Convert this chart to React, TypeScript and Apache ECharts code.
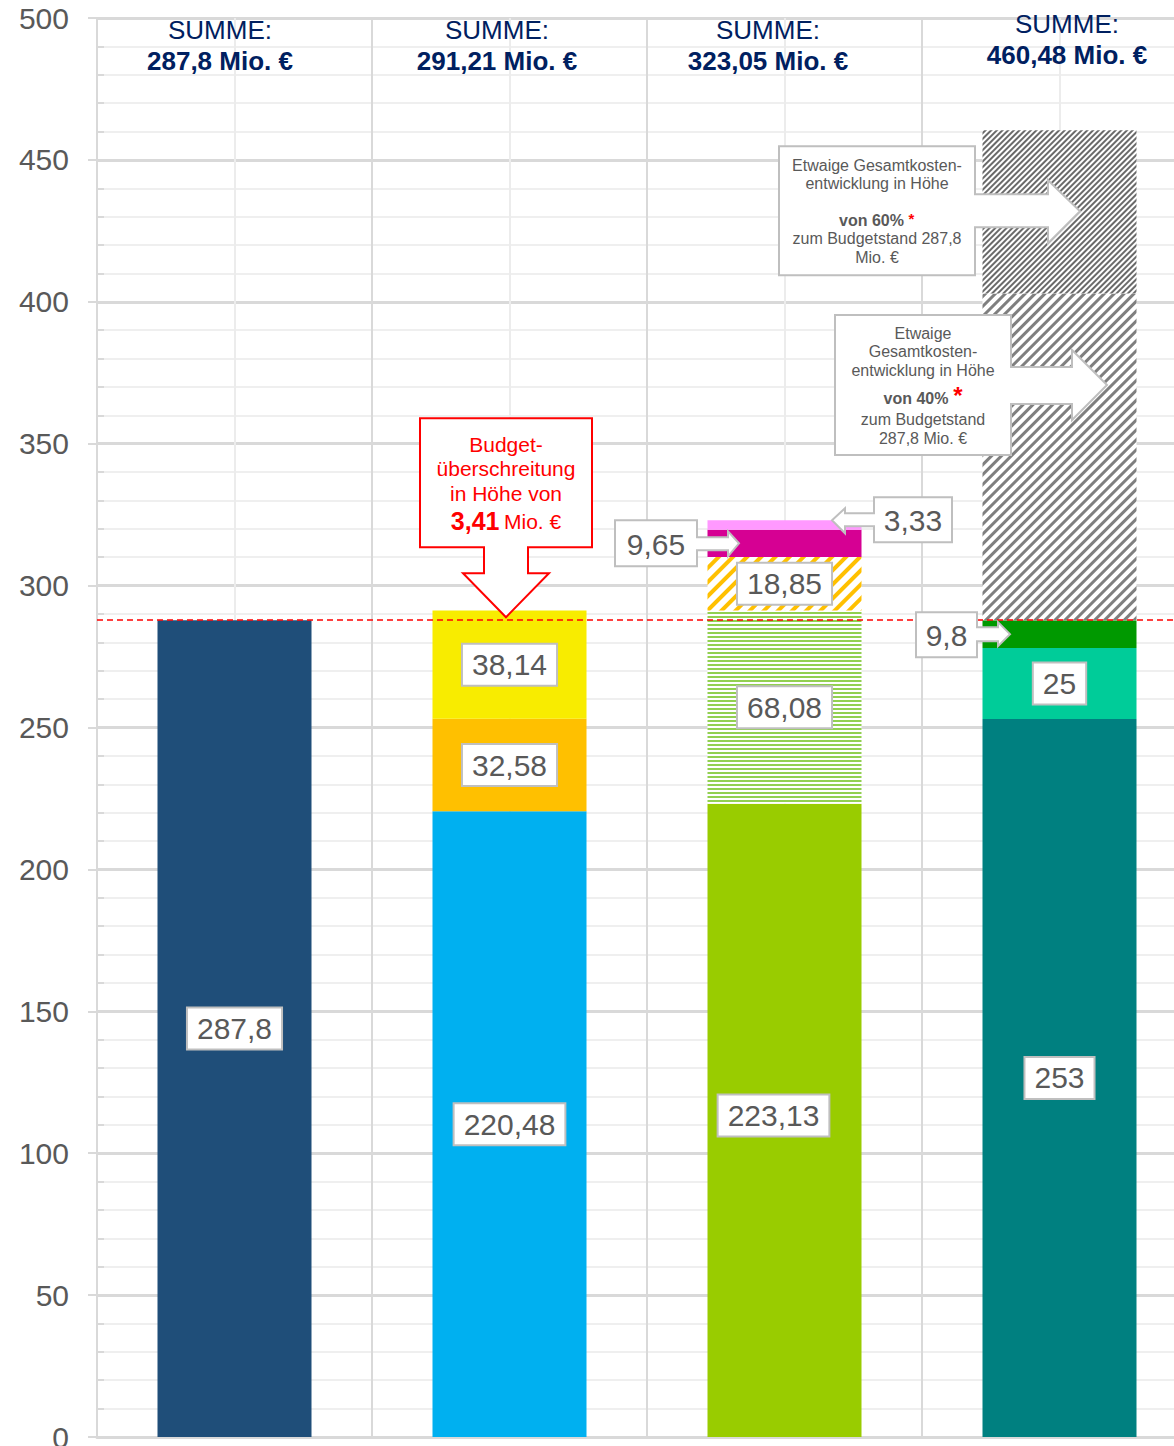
import React, { useEffect, useRef } from 'react';
import * as echarts from 'echarts';

// ---------- data ----------
const categories = ['Budgetstand', 'Stand 2', 'Stand 3', 'Prognose'];
const budgetValues = [287.8];
const stand2Values = [220.48, 32.58, 38.14];
const stand3Values = [223.13, 68.08, 18.85, 9.65, 3.33];
const prognoseValues = [253, 25, 9.8, 115.12, 57.56];
const sumLabels = ['287,8', '291,21', '323,05', '460,48'];
const budgetLine = 287.8;
const overrunLabel = '3,41';
const yMin = 0;
const yMax = 500;
const yInterval = 50;

// ---------- styles ----------
const FONT = "'Liberation Sans', Arial, Helvetica, sans-serif";
const GRAY_TEXT = '#595959';
const BOX_BORDER = '#bfbfbf';
const NAVY = '#002060';

const fmt = (v: number) => String(v).replace('.', ',');

const boxLabel = (extra: any = {}) => ({
  show: true,
  position: 'inside',
  formatter: (p: any) => fmt(p.value),
  fontFamily: FONT,
  fontSize: 30,
  color: GRAY_TEXT,
  backgroundColor: '#ffffff',
  borderColor: BOX_BORDER,
  borderWidth: 2,
  padding: [6, 9, 4, 9],
  ...extra,
});
const noLabel = { show: false };

const stripes = (color: string, dashY: number[], rotation: number) => ({
  color,
  symbol: 'rect',
  symbolSize: 1,
  symbolKeepAspect: false,
  dashArrayX: [1, 0],
  dashArrayY: dashY,
  rotation,
});

function seg(cat: number, value: number, itemStyle: any, label: any, extra: any = {}) {
  const data = categories.map((_, i) => (i === cat ? value : '-'));
  return {
    type: 'bar',
    stack: 'total',
    barWidth: 154,
    xAxisIndex: 0,
    yAxisIndex: 0,
    data,
    itemStyle,
    label,
    emphasis: { disabled: true },
    ...extra,
  };
}

function buildSeries() {
  const s: any[] = [];
  s.push(seg(0, budgetValues[0], { color: '#1F4E79' }, boxLabel()));

  const c2 = ['#00B0F0', '#FFC000', '#F8EC00'];
  stand2Values.forEach((v, i) => s.push(seg(1, v, { color: c2[i] }, boxLabel())));

  const st3: any[] = [
    { color: '#99CC00' },
    { color: '#ffffff', decal: stripes('#92D050', [2, 2], 0) },
    { color: '#ffffff', decal: stripes('#FFC000', [4, 6], -Math.PI / 4) },
    { color: '#D60093' },
    { color: '#FF99FF' },
  ];
  const lb3 = [boxLabel({ offset: [-11, -5] }), boxLabel(), boxLabel(), noLabel, noLabel];
  stand3Values.forEach((v, i) => s.push(seg(2, v, st3[i], lb3[i])));

  const st4: any[] = [
    { color: '#008080' },
    { color: '#00CC99' },
    { color: '#009900' },
    { color: '#ffffff', decal: stripes('#7f7f7f', [3, 4], -Math.PI / 4) },
    { color: '#ffffff', decal: stripes('#6a6a6a', [1.5, 1.5], -Math.PI / 4) },
  ];
  const lb4 = [boxLabel(), boxLabel(), noLabel, noLabel, noLabel];
  prognoseValues.forEach((v, i) => {
    const extra =
      i === prognoseValues.length - 1
        ? {
            markLine: {
              silent: true,
              symbol: ['none', 'none'],
              label: { show: false },
              lineStyle: { color: '#FF0000', type: [6, 4], width: 1.5 },
              z: 6,
              data: [{ yAxis: budgetLine }],
            },
          }
        : {};
    s.push(seg(3, v, st4[i], lb4[i], extra));
  });
  return s;
}

const calloutStyle = { fill: '#ffffff', stroke: BOX_BORDER, lineWidth: 2 };

function txt(x: number, y: number, text: string, o: any = {}) {
  return {
    type: 'text',
    x,
    y,
    z: 20,
    silent: true,
    style: {
      text,
      fill: GRAY_TEXT,
      fontFamily: FONT,
      fontSize: 16,
      align: 'center',
      verticalAlign: 'middle',
      ...o,
    },
  };
}

function poly(points: number[][], style: any) {
  return { type: 'polygon', z: 15, silent: true, shape: { points }, style };
}

function buildGraphics(chart: any) {
  const px = (cat: number, v: number) => chart.convertToPixel({ xAxisIndex: 0, yAxisIndex: 0 }, [cat, v]);
  const g: any[] = [];

  // SUMME headers
  const sumDx = [-14.5, -12.5, -16.5, 7.5];
  const sumDy = [0, 0, 0, -6];
  sumLabels.forEach((s, i) => {
    const [x, y] = px(i, yMax);
    g.push({
      type: 'group',
      x: x + sumDx[i],
      y: y + sumDy[i],
      children: [
        txt(0, 12, 'SUMME:', { fill: NAVY, fontSize: 26 }),
        txt(0, 43, s + ' Mio. €', { fill: NAVY, fontSize: 26, fontWeight: 'bold' }),
      ],
    });
  });

  // Budget overrun callout (red)
  {
    const [x, y] = px(1, budgetLine);
    g.push({
      type: 'group',
      x,
      y,
      children: [
        poly(
          [
            [-89.5, -202], [82.5, -202], [82.5, -73], [18.5, -73], [18.5, -47], [39.5, -47],
            [-3.5, -3], [-46.5, -47], [-25.5, -47], [-25.5, -73], [-89.5, -73],
          ],
          { fill: '#ffffff', stroke: '#FF0000', lineWidth: 2 }
        ),
        txt(-3.5, -176, 'Budget-', { fill: '#FF0000', fontSize: 21 }),
        txt(-3.5, -152, 'überschreitung', { fill: '#FF0000', fontSize: 21 }),
        txt(-3.5, -127, 'in Höhe von', { fill: '#FF0000', fontSize: 21 }),
        txt(-3.5, -99, '{b|' + overrunLabel + '} {r|Mio. €}', {
          fill: '#FF0000',
          rich: {
            b: { fill: '#FF0000', fontSize: 25, fontWeight: 'bold', fontFamily: FONT },
            r: { fill: '#FF0000', fontSize: 21, fontFamily: FONT },
          },
        }),
      ],
    });
  }

  // 60% callout
  {
    const top = prognoseValues.reduce((a, b) => a + b, 0);
    const [x, y] = px(3, top);
    g.push({
      type: 'group',
      x,
      y,
      children: [
        poly(
          [
            [-280.5, 16], [-84.5, 16], [-84.5, 64], [-11.5, 64], [-11.5, 50], [20.5, 81],
            [-11.5, 113], [-11.5, 97], [-84.5, 97], [-84.5, 145], [-280.5, 145],
          ],
          calloutStyle
        ),
        txt(-182.5, 35, 'Etwaige Gesamtkosten-'),
        txt(-182.5, 53, 'entwicklung in Höhe'),
        txt(-188, 90, 'von 60%', { fontWeight: 'bold' }),
        txt(-148, 88, '*', { fill: '#FF0000', fontSize: 15, fontWeight: 'bold' }),
        txt(-182.5, 108, 'zum Budgetstand 287,8'),
        txt(-182.5, 127, 'Mio. €'),
      ],
    });
  }

  // 40% callout
  {
    const lvl = prognoseValues.slice(0, 4).reduce((a, b) => a + b, 0);
    const [x, y] = px(3, lvl);
    g.push({
      type: 'group',
      x,
      y,
      children: [
        poly(
          [
            [-224.5, 21.5], [-48.5, 21.5], [-48.5, 73.5], [12.5, 73.5], [12.5, 56.5], [47.5, 91.5],
            [12.5, 126.5], [12.5, 110.5], [-48.5, 110.5], [-48.5, 161.5], [-224.5, 161.5],
          ],
          calloutStyle
        ),
        txt(-136.5, 39.5, 'Etwaige'),
        txt(-136.5, 57.5, 'Gesamtkosten-'),
        txt(-136.5, 76.5, 'entwicklung in Höhe'),
        txt(-143.5, 104.5, 'von 40%', { fontWeight: 'bold' }),
        txt(-101.5, 102, '*', { fill: '#FF0000', fontSize: 24, fontWeight: 'bold' }),
        txt(-136.5, 125.5, 'zum Budgetstand'),
        txt(-136.5, 144.5, '287,8 Mio. €'),
      ],
    });
  }

  const big = { fontSize: 30 };
  // 9,65 callout
  {
    const base = stand3Values.slice(0, 3).reduce((a, b) => a + b, 0);
    const [x, y] = px(2, base + stand3Values[3] / 2);
    g.push({
      type: 'group',
      x,
      y,
      children: [
        poly(
          [
            [-169.5, -23], [-87.5, -23], [-87.5, -6], [-56.5, -6], [-56.5, -12], [-45.5, 0],
            [-56.5, 13], [-56.5, 7], [-87.5, 7], [-87.5, 23], [-169.5, 23],
          ],
          calloutStyle
        ),
        txt(-128.5, 1, fmt(stand3Values[3]), big),
      ],
    });
  }
  // 3,33 callout
  {
    const top = stand3Values.reduce((a, b) => a + b, 0);
    const [x, y] = px(2, top);
    g.push({
      type: 'group',
      x,
      y,
      children: [
        poly(
          [
            [89.5, -23], [167.5, -23], [167.5, 22], [89.5, 22], [89.5, 6], [60.5, 6], [60.5, 13],
            [47.5, 0], [60.5, -12], [60.5, -7], [89.5, -7],
          ],
          calloutStyle
        ),
        txt(128.5, 0, fmt(stand3Values[4]), big),
      ],
    });
  }
  // 9,8 callout
  {
    const base = prognoseValues[0] + prognoseValues[1];
    const [x, y] = px(3, base + prognoseValues[2] / 2);
    g.push({
      type: 'group',
      x,
      y,
      children: [
        poly(
          [
            [-143.5, -22], [-82.5, -22], [-82.5, -7], [-61.5, -7], [-61.5, -12], [-49.5, 0],
            [-61.5, 12], [-61.5, 7], [-82.5, 7], [-82.5, 23], [-143.5, 23],
          ],
          calloutStyle
        ),
        txt(-113, 1, fmt(prognoseValues[2]), big),
      ],
    });
  }
  return g;
}

export default function App() {
  const ref = useRef<HTMLDivElement>(null);
  useEffect(() => {
    if (!ref.current) return;
    const chart = echarts.init(ref.current, undefined, { renderer: 'svg' });
    const option: any = {
      animation: false,
      backgroundColor: '#ffffff',
      grid: { left: 97, top: 18, width: 1100, height: 1419, containLabel: false, outerBoundsMode: 'none' },
      xAxis: [
        {
          type: 'category',
          data: categories,
          axisLine: { show: true, lineStyle: { color: '#d9d9d9', width: 3 } },
          axisTick: { show: true, inside: true, alignWithLabel: true, length: 6, lineStyle: { color: '#d9d9d9', width: 2 } },
          axisLabel: { show: false },
          splitLine: { show: false },
          z: 1,
        },
        {
          type: 'value',
          min: 0,
          max: 8,
          interval: 1,
          position: 'bottom',
          axisLine: { show: false },
          axisTick: { show: false },
          axisLabel: { show: false },
          splitLine: { show: true, lineStyle: { color: ['#d9d9d9', '#ececec'], width: 2 } },
        },
      ],
      yAxis: [
        {
          type: 'value',
          min: yMin,
          max: yMax,
          interval: yInterval,
          axisLine: { show: true, lineStyle: { color: '#d9d9d9', width: 2 } },
          axisTick: { show: true, length: 9, lineStyle: { color: '#d9d9d9', width: 2 } },
          axisLabel: { fontSize: 30, color: GRAY_TEXT, fontFamily: FONT, margin: 28 },
          splitLine: { show: true, lineStyle: { color: '#d9d9d9', width: 3 } },
          minorTick: { show: false, splitNumber: 5 },
          minorSplitLine: { show: true, lineStyle: { color: '#efefef', width: 2 } },
        },
        {
          type: 'value',
          min: yMin,
          max: yMax,
          interval: 10,
          position: 'left',
          axisLine: { show: false },
          axisTick: { show: true, inside: true, length: 7, lineStyle: { color: '#d9d9d9', width: 2 } },
          axisLabel: { show: false },
          splitLine: { show: false },
        },
      ],
      series: buildSeries(),
    };
    chart.setOption(option);
    chart.setOption({ graphic: buildGraphics(chart) });
    return () => chart.dispose();
  }, []);
  return (
    <div style={{ position: 'absolute', left: 0, top: 0, width: 1174, height: 1446, overflow: 'hidden' }}>
      <div ref={ref} style={{ width: 1174, height: 1446, background: '#fff' }} />
    </div>
  );
}
